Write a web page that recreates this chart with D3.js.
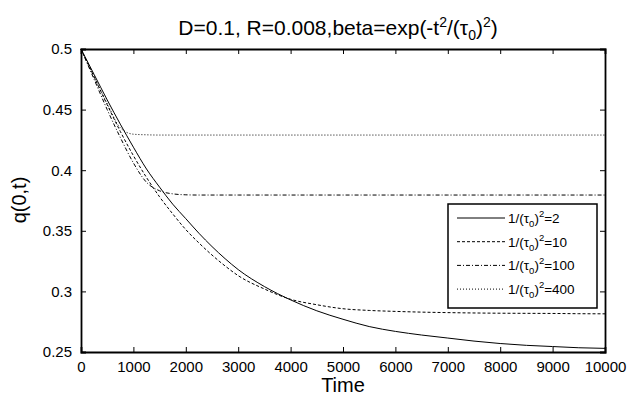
<!DOCTYPE html>
<html>
<head>
<meta charset="utf-8">
<style>
body {margin:0; background:#fff;}
text {font-family:'Liberation Sans',Arial,sans-serif; fill:#000;}
.axis path,.axis line {stroke:#000;}
</style>
<script src="https://d3js.org/d3.v7.min.js"></script>
</head>
<body>
<svg id="svg001"></svg>
<script>
// values
var times=[0,250,500,750,1000,1250,1500,1750,2000,2250,2500,2750,3000,3500,4000,4500,5000,5500,6000,6500,7000,7500,8000,8500,9000,9500,10000];
var q2  =[0.5,0.479,0.458,0.438,0.419,0.401,0.386,0.372,0.360,0.348,0.337,0.327,0.318,0.304,0.293,0.284,0.277,0.271,0.267,0.264,0.2615,0.259,0.257,0.2555,0.2545,0.2535,0.253];
var q10 =[0.5,0.477,0.454,0.432,0.412,0.394,0.378,0.364,0.351,0.340,0.330,0.321,0.313,0.302,0.2935,0.289,0.2857,0.2843,0.2835,0.2829,0.2825,0.2822,0.282,0.2819,0.2818,0.2816,0.2815];
var q100=[0.5,0.475,0.450,0.427,0.406,0.390,0.383,0.3805,0.3797,0.3795,0.3795,0.3795,0.3795,0.3795,0.3795,0.3795,0.3795,0.3795,0.3795,0.3795,0.3795,0.3795,0.3795,0.3795,0.3795,0.3795,0.3795];
var q400=[0.5,0.477,0.455,0.435,0.4297,0.4292,0.429,0.429,0.429,0.429,0.429,0.429,0.429,0.429,0.429,0.429,0.429,0.429,0.429,0.429,0.429,0.429,0.429,0.429,0.429,0.429,0.429];
var seriesNames=['2','10','100','400'];
var seriesVals=[q2,q10,q100,q400];
var dashes=[null,'3,2','4,2,1,2','1,2'];
var xTicks=d3.range(0,10001,1000);
var yTicks=[0.25,0.3,0.35,0.4,0.45,0.5];

var W=627,H=402;
var margin={top:49,right:22,bottom:50,left:81},
    width=W-margin.left-margin.right,
    height=H-margin.top-margin.bottom;
var svg0=d3.select('#svg001').attr('width',W).attr('height',H);
var svg=svg0.append('g').attr('transform','translate('+margin.left+','+margin.top+')');

var xScale=d3.scaleLinear().domain([0,10000]).range([0,width]);
var yScale=d3.scaleLinear().domain([0.25,0.5]).range([height,0]);

// ticks inside on all four sides
svg.append('g').attr('class','axis').attr('transform','translate(0,'+height+')')
   .call(d3.axisBottom(xScale).tickValues(xTicks).tickSize(-5).tickPadding(9).tickFormat(d3.format('d')))
   .call(g=>g.selectAll('text').style('font-size','15px'));
svg.append('g').attr('class','axis')
   .call(d3.axisTop(xScale).tickValues(xTicks).tickSize(-5).tickFormat(''));
svg.append('g').attr('class','axis')
   .call(d3.axisLeft(yScale).tickValues(yTicks).tickSize(-5).tickPadding(9).tickFormat(d=>String(+d.toFixed(2))))
   .call(g=>g.selectAll('text').style('font-size','15px'));
svg.append('g').attr('class','axis').attr('transform','translate('+width+',0)')
   .call(d3.axisRight(yScale).tickValues(yTicks).tickSize(-5).tickFormat(''));
svg.selectAll('.axis path.domain').attr('stroke-width',1.8);

var line=d3.line().curve(d3.curveMonotoneX)
   .x(d=>xScale(d[0])).y(d=>yScale(d[1]));
seriesVals.forEach(function(vals,i){
  svg.append('path').datum(times.map((t,j)=>[t,vals[j]]))
     .attr('d',line).attr('fill','none').attr('stroke','#000')
     .attr('stroke-width',1).attr('stroke-dasharray',dashes[i]);
});

// title
var title=svg0.append('text').attr('x',338).attr('y',35)
   .attr('text-anchor','middle').style('font-size','21px');
title.append('tspan').text('D=0.1, R=0.008,beta=exp(-t');
title.append('tspan').attr('dy',-8).style('font-size','14px').text('2');
title.append('tspan').attr('dy',8).text('/(τ');
title.append('tspan').attr('dy',5).style('font-size','14px').text('0');
title.append('tspan').attr('dy',-5).text(')');
title.append('tspan').attr('dy',-8).style('font-size','14px').text('2');
title.append('tspan').attr('dy',8).text(')');

svg0.append('text').attr('x',margin.left+width/2).attr('y',392)
   .attr('text-anchor','middle').style('font-size','20px').text('Time');
svg0.append('text').attr('transform','translate(26,200) rotate(-90)')
   .attr('text-anchor','middle').style('font-size','20px').text('q(0,t)');

// legend
var lg=svg0.append('g').attr('transform','translate(448,204)');
lg.append('rect').attr('width',149).attr('height',104)
  .attr('fill','#fff').attr('stroke','#000').attr('stroke-width',1.5);
seriesNames.forEach(function(nm,i){
  var yy=14+i*23.7;
  lg.append('line').attr('x1',9).attr('x2',57).attr('y1',yy).attr('y2',yy)
    .attr('stroke','#000').attr('stroke-width',1).attr('stroke-dasharray',dashes[i]);
  var t=lg.append('text').attr('x',60).attr('y',yy+5).style('font-size','13.5px');
  t.append('tspan').text('1/(τ');
  t.append('tspan').attr('dy',4).style('font-size','9.5px').text('0');
  t.append('tspan').attr('dy',-4).text(')');
  t.append('tspan').attr('dy',-6).style('font-size','9.5px').text('2');
  t.append('tspan').attr('dy',6).text('='+nm);
});
</script>
</body>
</html>
